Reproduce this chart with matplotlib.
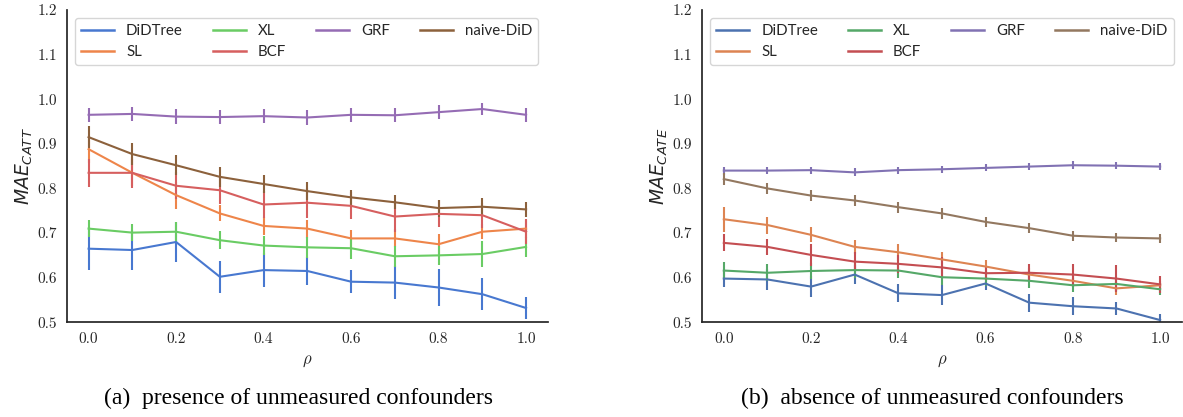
import matplotlib
matplotlib.use("Agg")
import matplotlib.pyplot as plt
from matplotlib.lines import Line2D

rho = [0.0, 0.1, 0.2, 0.3, 0.4, 0.5, 0.6, 0.7, 0.8, 0.9, 1.0]
methods = ["DiDTree", "SL", "XL", "BCF", "GRF", "naive-DiD"]

# (a) presence of unmeasured confounders -- MAE_CATT
a_mean = {
    "DiDTree": [0.665, 0.662, 0.680, 0.602, 0.617, 0.615, 0.591, 0.589, 0.578, 0.563, 0.532],
    "SL": [0.888, 0.835, 0.785, 0.744, 0.716, 0.710, 0.688, 0.688, 0.675, 0.703, 0.710],
    "XL": [0.710, 0.701, 0.703, 0.684, 0.672, 0.668, 0.666, 0.648, 0.650, 0.653, 0.669],
    "BCF": [0.835, 0.835, 0.806, 0.796, 0.764, 0.768, 0.761, 0.737, 0.743, 0.740, 0.703],
    "GRF": [0.965, 0.967, 0.961, 0.960, 0.962, 0.959, 0.965, 0.964, 0.971, 0.978, 0.965],
    "naive-DiD": [0.915, 0.877, 0.852, 0.826, 0.810, 0.794, 0.780, 0.769, 0.756, 0.759, 0.753],
}
a_err = {
    "DiDTree": [0.048, 0.045, 0.045, 0.036, 0.038, 0.031, 0.026, 0.037, 0.041, 0.036, 0.024],
    "SL": [0.030, 0.030, 0.030, 0.018, 0.020, 0.020, 0.019, 0.020, 0.022, 0.017, 0.020],
    "XL": [0.019, 0.019, 0.022, 0.020, 0.022, 0.024, 0.024, 0.023, 0.022, 0.029, 0.023],
    "BCF": [0.031, 0.035, 0.030, 0.030, 0.030, 0.034, 0.030, 0.034, 0.030, 0.028, 0.028],
    "GRF": [0.016, 0.016, 0.016, 0.016, 0.016, 0.016, 0.016, 0.016, 0.015, 0.013, 0.015],
    "naive-DiD": [0.025, 0.024, 0.022, 0.022, 0.020, 0.020, 0.017, 0.016, 0.019, 0.019, 0.016],
}

# (b) absence of unmeasured confounders -- MAE_CATE
b_mean = {
    "DiDTree": [0.598, 0.596, 0.580, 0.607, 0.565, 0.561, 0.587, 0.544, 0.536, 0.531, 0.505],
    "SL": [0.731, 0.718, 0.696, 0.669, 0.657, 0.641, 0.625, 0.607, 0.593, 0.576, 0.583],
    "XL": [0.616, 0.611, 0.615, 0.617, 0.616, 0.601, 0.598, 0.593, 0.583, 0.586, 0.574],
    "BCF": [0.678, 0.669, 0.651, 0.636, 0.631, 0.623, 0.610, 0.611, 0.607, 0.598, 0.585],
    "GRF": [0.840, 0.840, 0.841, 0.836, 0.841, 0.843, 0.846, 0.849, 0.852, 0.851, 0.849],
    "naive-DiD": [0.821, 0.800, 0.784, 0.773, 0.758, 0.744, 0.725, 0.711, 0.694, 0.690, 0.688],
}
b_err = {
    "DiDTree": [0.020, 0.024, 0.024, 0.022, 0.020, 0.022, 0.015, 0.020, 0.020, 0.015, 0.013],
    "SL": [0.028, 0.019, 0.017, 0.016, 0.019, 0.016, 0.015, 0.015, 0.015, 0.015, 0.010],
    "XL": [0.020, 0.019, 0.017, 0.017, 0.017, 0.017, 0.016, 0.016, 0.016, 0.015, 0.012],
    "BCF": [0.019, 0.018, 0.025, 0.022, 0.020, 0.024, 0.015, 0.019, 0.024, 0.030, 0.019],
    "GRF": [0.009, 0.008, 0.008, 0.009, 0.008, 0.008, 0.008, 0.008, 0.009, 0.008, 0.008],
    "naive-DiD": [0.013, 0.013, 0.012, 0.012, 0.012, 0.012, 0.011, 0.011, 0.011, 0.011, 0.011],
}

muted = ["#4878d0", "#ee854a", "#6acc64", "#d65f5f", "#956cb4", "#8c613c"]
deep = ["#4c72b0", "#dd8452", "#55a868", "#c44e52", "#8172b3", "#937860"]

yticks = [0.5, 0.6, 0.7, 0.8, 0.9, 1.0, 1.1, 1.2]
xticks = [0.0, 0.2, 0.4, 0.6, 0.8, 1.0]

plt.rcParams["axes.formatter.use_mathtext"] = True

fig = plt.figure(figsize=(11.83, 4.17), dpi=100)
axA = fig.add_axes([0.0564, 0.2271, 0.4068, 0.749])
axB = fig.add_axes([0.5934, 0.2271, 0.4057, 0.749])

panels = [
    (axA, a_mean, a_err, muted, r"$MAE_{CATT}$", "(a)  presence of unmeasured confounders", 0.252),
    (axB, b_mean, b_err, deep, r"$MAE_{CATE}$", "(b)  absence of unmeasured confounders", 0.788),
]

for ax, means, errs, cols, ylab, cap, capx in panels:
    handles = []
    for m, c in zip(methods, cols):
        ax.errorbar(rho, means[m], yerr=errs[m], color=c, lw=1.5,
                    elinewidth=1.5, capsize=0)
        handles.append(Line2D([], [], color=c, lw=1.8, label=m))
    ax.set_ylim(0.5, 1.2)
    ax.set_xlim(-0.05, 1.05)
    ax.set_yticks(yticks)
    ax.set_xticks(xticks)
    ax.set_yticklabels([f"{v:.1f}" for v in yticks], fontfamily="cmr10", fontsize=11)
    ax.set_xticklabels([f"{v:.1f}" for v in xticks], fontfamily="cmr10", fontsize=11)
    ax.tick_params(length=0, pad=7, colors="#262626")
    for s in ["top", "right"]:
        ax.spines[s].set_visible(False)
    for s in ["left", "bottom"]:
        ax.spines[s].set_color("#262626")
        ax.spines[s].set_linewidth(1.25)
    ax.set_ylabel(ylab, fontsize=13.5, labelpad=2, color="#262626")
    ax.set_xlabel(r"$\rho$", fontsize=12, math_fontfamily="cm", labelpad=4, color="#262626")
    leg = ax.legend(handles=handles, loc="upper left", ncol=4,
                    prop={"family": "Lato", "size": 10.8},
                    handlelength=2.2, handletextpad=0.8, columnspacing=2.0,
                    frameon=True, borderaxespad=0.55, labelspacing=0.45)
    leg.get_frame().set_edgecolor("#cccccc")
    leg.get_frame().set_linewidth(1.0)
    for t in leg.get_texts():
        t.set_color("#262626")
    fig.text(capx, 0.045, cap, ha="center", va="center",
             fontfamily="Liberation Serif", fontsize=17)

fig.savefig("out.png", dpi=100)
